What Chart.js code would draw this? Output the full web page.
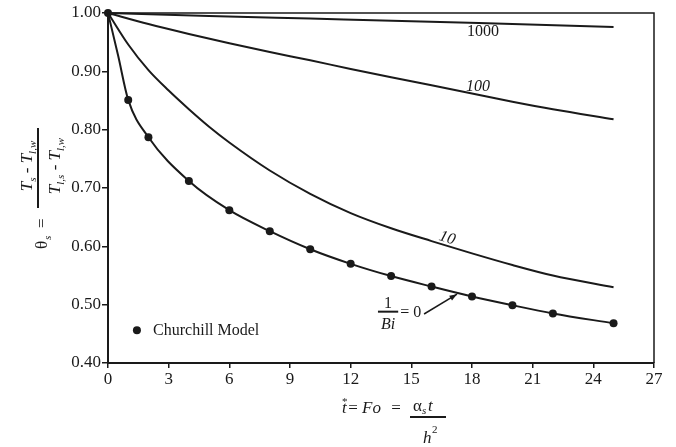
<!DOCTYPE html>
<html><head><meta charset="utf-8">
<script src="https://cdn.jsdelivr.net/npm/chart.js@4"></script>
<style>html,body{margin:0;padding:0;background:#fff}#wrap{width:676px;height:447px}</style>
</head><body><div id="wrap"><canvas id="c" width="676" height="447"></canvas></div>
<script>
// ---- data ----
const bi1000X = [0, 5, 10, 15, 20, 25];
const bi1000Y = [1.000, 0.995, 0.9905, 0.986, 0.981, 0.976];
const bi100X = [0, 2, 4, 6, 8, 10, 12, 14, 16, 18, 20, 22, 25];
const bi100Y = [1.000, 0.981, 0.964, 0.948, 0.933, 0.919, 0.904, 0.890, 0.876, 0.862, 0.848, 0.835, 0.818];
const bi10X = [0, 1, 2, 3, 4, 5, 6, 8, 10, 12, 14, 16, 18, 20, 22, 25];
const bi10Y = [1.000, 0.946, 0.902, 0.867, 0.835, 0.805, 0.778, 0.730, 0.690, 0.657, 0.631, 0.609, 0.588, 0.568, 0.550, 0.530];
const bi0X = [0, 0.5, 1, 2, 4, 6, 8, 10, 12, 14, 16, 18, 20, 22, 25];
const bi0Y = [1.000, 0.927, 0.851, 0.787, 0.712, 0.662, 0.626, 0.595, 0.570, 0.549, 0.531, 0.514, 0.499, 0.485, 0.468];
const churchillX = [0, 1, 2, 4, 6, 8, 10, 12, 14, 16, 18, 20, 22, 25];
const churchillY = [1.000, 0.851, 0.787, 0.712, 0.662, 0.626, 0.595, 0.570, 0.549, 0.531, 0.514, 0.499, 0.485, 0.468];
const xTickStep = 3;
const yTickStep = 0.1;
const curveLabels = ['1000', '100', '10'];
const legendLabel = 'Churchill Model';

const pts = (xs, ys) => xs.map((x, i) => ({x: x, y: ys[i]}));
const INK = '#1a1a1a';
const SERIF = '"Liberation Serif", "DejaVu Serif", serif';

const lineDs = (label, xs, ys) => ({
  label: label, data: pts(xs, ys), borderColor: INK, borderWidth: 2,
  pointRadius: 0, cubicInterpolationMode: 'monotone', fill: false, clip: false
});

const annot = {
  id: 'annot',
  afterDraw(chart) {
    const ctx = chart.ctx, a = chart.chartArea;
    const xs = chart.scales.x, ys = chart.scales.y;
    const X = v => xs.getPixelForValue(v), Y = v => ys.getPixelForValue(v);
    ctx.save();
    // frame top & right
    ctx.strokeStyle = INK; ctx.lineWidth = 1.5;
    ctx.beginPath(); ctx.moveTo(a.left, a.top); ctx.lineTo(a.right, a.top); ctx.lineTo(a.right, a.bottom); ctx.stroke();

    ctx.fillStyle = INK;
    ctx.textBaseline = 'middle'; ctx.textAlign = 'center';
    // curve labels
    ctx.font = '16px ' + SERIF;
    ctx.fillText(curveLabels[0], X(18.55), Y(0.967));
    ctx.font = 'italic 16px ' + SERIF;
    ctx.fillText(curveLabels[1], X(18.3), Y(0.873));
    ctx.save();
    ctx.translate(X(16.77), Y(0.614)); ctx.rotate(0.3);
    ctx.fillText(curveLabels[2], 0, 0);
    ctx.restore();

    // 1/Bi = 0
    ctx.font = '16px ' + SERIF;
    ctx.fillText('1', X(13.85), Y(0.502));
    ctx.fillRect(X(13.35), Y(0.488) - 1, X(14.35) - X(13.35), 2);
    ctx.font = 'italic 16px ' + SERIF;
    ctx.fillText('Bi', X(13.85), Y(0.466));
    ctx.font = '16px ' + SERIF; ctx.textAlign = 'left';
    ctx.fillText('= 0', X(14.45), Y(0.486));
    // arrow
    const x1 = X(15.63), y1 = Y(0.484), x2 = X(17.26), y2 = Y(0.518);
    ctx.lineWidth = 1.5;
    ctx.beginPath(); ctx.moveTo(x1, y1); ctx.lineTo(x2, y2); ctx.stroke();
    const ang = Math.atan2(y2 - y1, x2 - x1);
    ctx.beginPath();
    ctx.moveTo(x2, y2);
    ctx.lineTo(x2 - 8 * Math.cos(ang - 0.35), y2 - 8 * Math.sin(ang - 0.35));
    ctx.lineTo(x2 - 8 * Math.cos(ang + 0.35), y2 - 8 * Math.sin(ang + 0.35));
    ctx.closePath(); ctx.fill();

    // legend
    ctx.beginPath(); ctx.arc(X(1.43), Y(0.456), 4, 0, Math.PI * 2); ctx.fill();
    ctx.font = '16px ' + SERIF; ctx.textAlign = 'left';
    ctx.fillText(legendLabel, X(2.23), Y(0.456));

    // x axis title:  t* = Fo = (αs t)/(h^2)
    ctx.textBaseline = 'alphabetic';
    ctx.font = 'italic 17px ' + SERIF; ctx.textAlign = 'left';
    ctx.fillText('t', 342, 413);
    ctx.font = '11px ' + SERIF;
    ctx.fillText('*', 342, 405);
    ctx.font = '17px ' + SERIF; ctx.textAlign = 'center';
    ctx.fillText('=', 353, 413);
    ctx.font = 'italic 17px ' + SERIF; ctx.textAlign = 'left';
    ctx.fillText('Fo', 362, 413);
    ctx.font = '17px ' + SERIF; ctx.textAlign = 'center';
    ctx.fillText('=', 396, 413);
    ctx.fillRect(410, 416, 36, 2);
    ctx.textAlign = 'left';
    ctx.font = '17px ' + SERIF; ctx.fillText('\u03b1', 413, 411);
    ctx.font = 'italic 11px ' + SERIF; ctx.fillText('s', 422, 414);
    ctx.font = 'italic 17px ' + SERIF; ctx.fillText('t', 428, 411);
    ctx.font = 'italic 17px ' + SERIF; ctx.fillText('h', 423, 443);
    ctx.font = '11px ' + SERIF; ctx.fillText('2', 432, 433);

    // y axis title (rotated):  θs = (Ts - Tl,w)/(Tl,s - Tl,w)
    ctx.save();
    ctx.rotate(-Math.PI / 2);
    ctx.textAlign = 'left'; ctx.textBaseline = 'alphabetic';
    ctx.font = '17px ' + SERIF; ctx.fillText('\u03b8', -249, 47);
    ctx.font = 'italic 11px ' + SERIF; ctx.fillText('s', -240, 51);
    ctx.font = '17px ' + SERIF; ctx.fillText('=', -228, 47);
    ctx.fillRect(-208, 37, 80, 2);
    const drawRun = (parts, center, base) => {
      let w = 0;
      parts.forEach(p => { ctx.font = p[1]; w += ctx.measureText(p[0]).width; });
      let u = center - w / 2;
      parts.forEach(p => { ctx.font = p[1]; ctx.fillText(p[0], u, base + p[2]); u += ctx.measureText(p[0]).width; });
    };
    const big = 'italic 17px ' + SERIF, sub = 'italic 11px ' + SERIF, reg = '17px ' + SERIF;
    drawRun([['T', big, 0], ['s', sub, 4], [' - ', reg, 0], ['T', big, 0], ['l,w', sub, 4]], -166, 32);
    drawRun([['T', big, 0], ['l,s', sub, 4], [' - ', reg, 0], ['T', big, 0], ['l,w', sub, 4]], -166, 60);
    ctx.restore();
    ctx.restore();
  }
};

new Chart(document.getElementById('c'), {
  type: 'line',
  data: {
    datasets: [
      lineDs('1000', bi1000X, bi1000Y),
      lineDs('100', bi100X, bi100Y),
      lineDs('10', bi10X, bi10Y),
      lineDs('1/Bi = 0', bi0X, bi0Y),
      { label: legendLabel, data: pts(churchillX, churchillY), showLine: false,
        pointRadius: 4, pointBackgroundColor: INK, pointBorderColor: INK, pointBorderWidth: 0, clip: false }
    ]
  },
  options: {
    responsive: false, animation: false,
    layout: { padding: { left: 0, right: 22, top: 13, bottom: 0 } },
    plugins: { legend: { display: false }, tooltip: { enabled: false } },
    scales: {
      x: {
        type: 'linear', min: 0, max: 27,
        ticks: { stepSize: xTickStep, color: INK, font: { family: SERIF, size: 17 }, padding: 1, maxRotation: 0, autoSkip: false },
        grid: { drawOnChartArea: false, drawTicks: true, tickLength: 5, color: INK, lineWidth: 1.5 },
        border: { display: true, color: INK, width: 2 },
        afterFit: s => { s.height = 84; }
      },
      y: {
        type: 'linear', min: 0.4, max: 1.0,
        ticks: { stepSize: yTickStep, color: INK, font: { family: SERIF, size: 17 }, padding: 1,
                 callback: v => Number(v).toFixed(2) },
        grid: { drawOnChartArea: false, drawTicks: true, tickLength: 6, color: INK, lineWidth: 1.5 },
        border: { display: true, color: INK, width: 2 },
        afterFit: s => { s.width = 108; }
      }
    }
  },
  plugins: [annot]
});
</script>
</body></html>
